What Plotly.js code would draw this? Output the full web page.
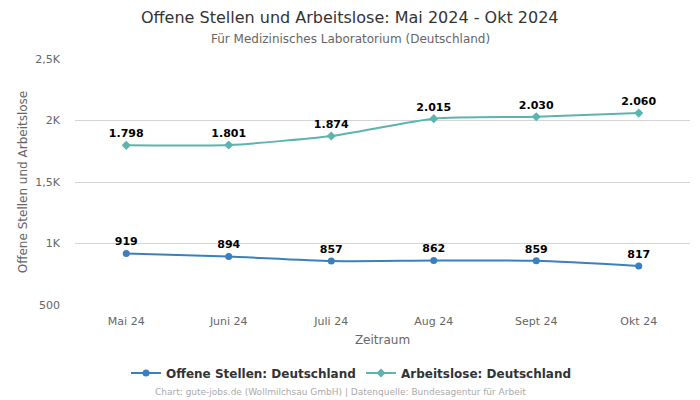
<!DOCTYPE html>
<html><head><meta charset="utf-8">
<script src="https://cdn.plot.ly/plotly-3.0.1.min.js"></script>
<style>body{margin:0;}#c{width:700px;height:400px;}</style>
</head><body><div id="c"></div>
<script>
const months = ["Mai 24","Juni 24","Juli 24","Aug 24","Sept 24","Okt 24"];
const offeneStellen = [919, 894, 857, 862, 859, 817];
const arbeitslose = [1798, 1801, 1874, 2015, 2030, 2060];
const yTickVals = [500, 1000, 1500, 2000, 2500];
const yTickText = ["500","1K","1,5K","2K","2,5K"];
const fmt = v => v >= 1000 ? Math.floor(v/1000) + "." + String(v%1000).padStart(3,"0") : String(v);
const F = "DejaVu Sans, sans-serif";
const traces = [
 {x: months, y: offeneStellen, name: "Offene Stellen: Deutschland", type: "scatter", mode: "lines+markers+text",
  line: {color: "#3a80bd", width: 2, shape: "spline", smoothing: 0.6}, marker: {symbol: "circle", size: 7, color: "#3a80bd"},
  text: offeneStellen.map(fmt), textposition: "top center", textfont: {family: F, size: 11, color: "#000", weight: "bold"}, cliponaxis: false},
 {x: months, y: arbeitslose, name: "Arbeitslose: Deutschland", type: "scatter", mode: "lines+markers+text",
  line: {color: "#5bb5ae", width: 2, shape: "spline", smoothing: 0.6}, marker: {symbol: "diamond", size: 7, color: "#5bb5ae"},
  text: arbeitslose.map(fmt), textposition: "top center", textfont: {family: F, size: 11, color: "#000", weight: "bold"}, cliponaxis: false}
];
const py = p => (305 - p) / 246;
const px = p => (p - 75) / 615;
const layout = {
 width: 700, height: 400, margin: {l: 75, r: 10, t: 59, b: 95, autoexpand: false},
 paper_bgcolor: "#fff", plot_bgcolor: "#fff",
 font: {family: F, color: "#666", size: 11},
 xaxis: {type: "category", range: [-0.5, 5.5], showgrid: false, zeroline: false, showline: false,
   ticks: "", ticklabelstandoff: 8, tickfont: {size: 11, color: "#666"}, automargin: false,
   title: {text: "Zeitraum", font: {size: 12, color: "#666"}, standoff: 8}},
 yaxis: {range: [500, 2500], tickvals: yTickVals, ticktext: yTickText, showgrid: true, gridcolor: "#d5d5d5",
   zeroline: false, showline: false, ticks: "", ticklabelstandoff: 14, tickfont: {size: 11, color: "#666"}, automargin: false,
   title: {text: "Offene Stellen und Arbeitslose", font: {size: 12, color: "#666"}, standoff: 5}},
 legend: {orientation: "h", xref: "container", yref: "container", x: 126/700, xanchor: "left", y: 1 - 373/400, yanchor: "middle",
   entrywidth: 190, font: {size: 12, color: "#333", weight: "bold"}},
 showlegend: true,
 annotations: [
  {text: "Offene Stellen und Arbeitslose: Mai 2024 - Okt 2024", xref: "paper", yref: "paper", x: px(350), xanchor: "center",
   y: py(17), yanchor: "middle", showarrow: false, font: {size: 16, color: "#333"}},
  {text: "Für Medizinisches Laboratorium (Deutschland)", xref: "paper", yref: "paper", x: px(350), xanchor: "center",
   y: py(39), yanchor: "middle", showarrow: false, font: {size: 12, color: "#666"}},
  {text: "Chart: gute-jobs.de (Wollmilchsau GmbH) | Datenquelle: Bundesagentur für Arbeit",
   xref: "paper", yref: "paper", x: px(340), xanchor: "center", y: py(392), yanchor: "middle", showarrow: false,
   font: {size: 9, color: "#aaa"}}]
};
Plotly.newPlot("c", traces, layout, {displayModeBar: false});
</script></body></html>
